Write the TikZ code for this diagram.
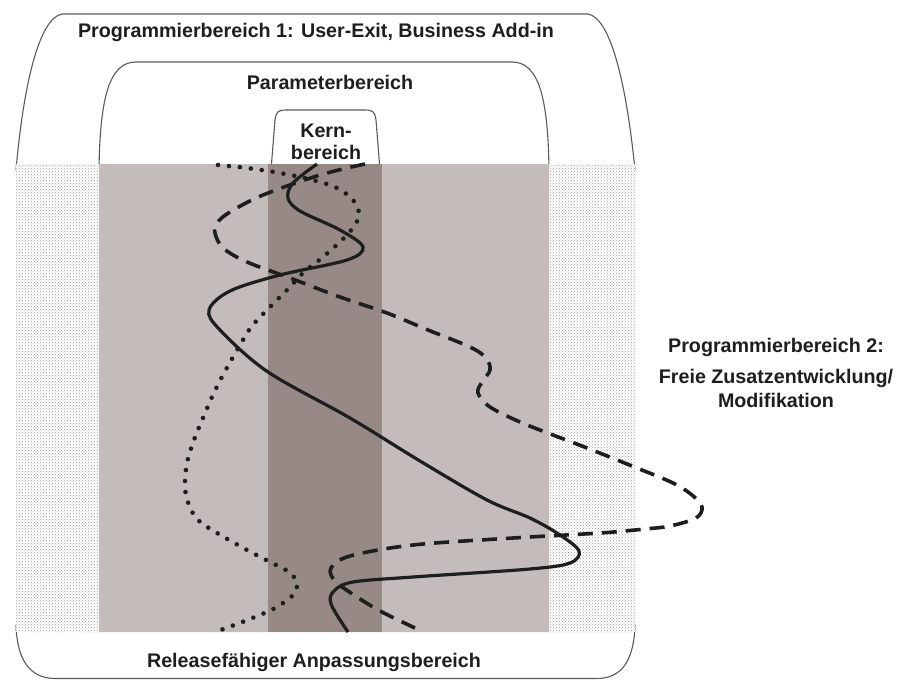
\documentclass[tikz,border=0pt]{standalone}
\usepackage{fontspec}
\setmainfont{Liberation Sans}
\usetikzlibrary{patterns}
\definecolor{lightband}{HTML}{C4BCBA}
\definecolor{darkband}{HTML}{978A86}
\definecolor{outline}{HTML}{5A5A5A}
\definecolor{ink}{HTML}{1E1E1E}
\begin{document}
\begin{tikzpicture}[x=1pt,y=-1pt,
  lab/.style={font=\fontsize{19.7}{22}\selectfont\bfseries, text=ink, inner sep=0pt, anchor=base},
  frame/.style={draw=outline, line width=1.1pt},
  solidc/.style={draw=ink, line width=3.2pt},
  dashc/.style={draw=ink, line width=3.6pt, dash pattern=on 15pt off 9pt},
  dotc/.style={draw=ink, line width=4.6pt, dash pattern=on 0pt off 11pt, line cap=round}]
\useasboundingbox (0,0) rectangle (897,680);
\fill[white] (0,0) rectangle (897,680);
% outlines of the areas
\draw[frame] (16,170) .. controls (24,80) and (40,18) .. (62,14) -- (588,14) .. controls (610,18) and (626,80) .. (635,170);
\draw[frame] (99,170) .. controls (100,95) and (110,63) .. (135,62) -- (513,62) .. controls (538,63) and (548,95) .. (549,170);
\draw[frame, fill=white] (271,170) -- (275,120) .. controls (276,112) and (278,110) .. (286,110) -- (365,110) .. controls (373,110) and (375,112) .. (376,120) -- (380,170);
\draw[frame] (16,625) .. controls (17,660) and (30,678.5) .. (55,678.5) -- (597,678.5) .. controls (622,678.5) and (634,660) .. (635,625);
% bands
\fill[white] (16,164) rectangle (635,632);
\fill[pattern=crosshatch dots, pattern color=gray!75] (16,164) rectangle (635,632);
\fill[lightband] (99,164) rectangle (549,632);
\fill[darkband] (268,164) rectangle (382,632);
% curves
\draw[dotc] plot[smooth, tension=0.55] coordinates {(218,165) (247,168) (280,173) (313,180) (337,188) (353,200) (359,213) (355,225) (342,240) (323,257) (303,273) (287,290) (270,307) (252,326) (240,345) (223,375) (212,397) (203,418) (194,440) (187,463) (185,487) (189,505) (198,520) (217,533) (247,550) (270,562) (289,572) (297,583) (293,595) (275,608) (250,619) (218,631)};
\draw[dashc] plot[smooth, tension=0.55] coordinates {(365,164) (320,175) (263,195) (230,212) (217,223) (215,233) (223,248) (247,262) (290,278) (340,297) (387,313) (428,330) (470,347) (486,358) (490,370) (482,382) (478,393) (490,407) (520,422) (553,435) (587,448) (637,468) (673,483) (692,495) (702,507) (696,518) (670,526) (645,529) (600,533) (513,538) (413,545) (350,556) (331,568) (335,581) (357,597) (382,612) (415,628)};
\draw[solidc] plot[smooth, tension=0.55] coordinates {(317,164) (293,183) (288,198) (300,211) (340,230) (363,247) (347,260) (280,275) (230,291) (209,310) (220,330) (268,372) (350,418) (420,461) (487,500) (530,518) (560,535) (579,551) (570,563) (530,569) (413,577) (353,582) (334,591) (331,604) (348,632)};
% labels
\node[lab] (pb1) at (316,37) {Programmierbereich 1: User-Exit, Business Add-in};
\node[lab] (param) at (330,89) {Parameterbereich};
\node[lab] (kern1) at (326,137) {Kern-};
\node[lab] (kern2) at (326,159) {bereich};
\node[lab] (pb2) at (776,352) {Programmierbereich 2:};
\node[lab] (frei) at (776,383) {Freie Zusatzentwicklung/};
\node[lab] (modi) at (776,407) {Modifikation};
\node[lab] (rel) at (314,667) {Releasefähiger Anpassungsbereich};
\end{tikzpicture}
\end{document}
